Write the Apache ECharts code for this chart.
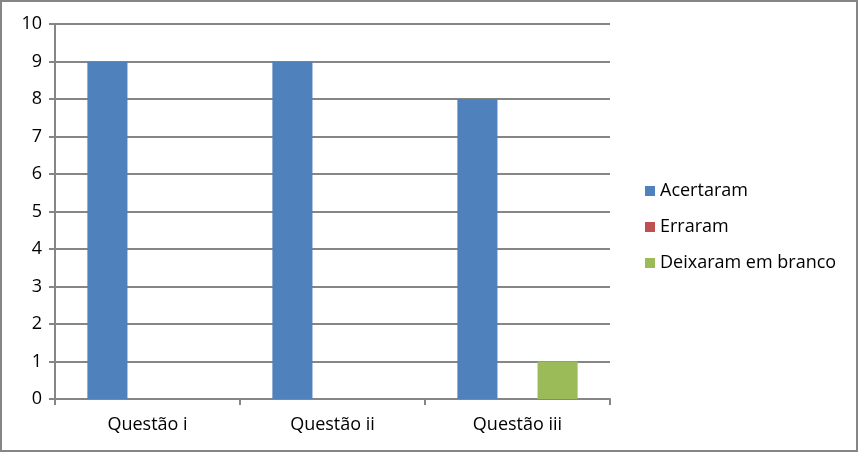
<!DOCTYPE html>
<html>
<head>
<meta charset="utf-8">
<script src="https://cdn.jsdelivr.net/npm/echarts@6/dist/echarts.min.js"></script>
<style>
  html, body { margin: 0; padding: 0; background: #fff; }
  #chart { width: 854px; height: 448px; border: 2px solid #868686; }
</style>
</head>
<body>
<div id="chart"></div>
<script>
// categorias e valores
const categories = ['Questão i', 'Questão ii', 'Questão iii'];
const acertaram = [9, 9, 8];
const erraram = [0, 0, 0];
const deixaram = [0, 0, 1];
const yTicks = [0, 10, 1]; // min, max, intervalo

const gridColor = '#868686';
const font = 'Open Sans, Noto Sans, sans-serif';

const chart = echarts.init(document.getElementById('chart'));
chart.setOption({
  animation: false,
  grid: { left: 53, top: 22, width: 555, height: 375 },
  legend: {
    orient: 'vertical',
    left: 638,
    top: 175,
    itemWidth: 10,
    itemHeight: 10,
    itemGap: 18,
    icon: 'rect',
    textStyle: { fontFamily: font, fontSize: 18, color: '#000', padding: [0, 0, 0, 0] },
    data: ['Acertaram', 'Erraram', 'Deixaram em branco']
  },
  xAxis: {
    type: 'category',
    data: categories,
    axisLine: { lineStyle: { color: gridColor, width: 2 } },
    axisTick: { show: true, length: 6, lineStyle: { color: gridColor, width: 2 } },
    axisLabel: { fontFamily: font, fontSize: 18, color: '#000', margin: 17 }
  },
  yAxis: {
    type: 'value',
    min: yTicks[0],
    max: yTicks[1],
    interval: yTicks[2],
    axisLine: { show: true, lineStyle: { color: gridColor, width: 2 } },
    axisTick: { show: true, length: 6, lineStyle: { color: gridColor, width: 2 } },
    axisLabel: { fontFamily: font, fontSize: 18, color: '#000', margin: 13 },
    splitLine: { show: true, lineStyle: { color: gridColor, width: 2 } }
  },
  series: [
    { name: 'Acertaram', type: 'bar', data: acertaram, barGap: '0%', barCategoryGap: '35%', itemStyle: { color: '#4f81bd' } },
    { name: 'Erraram', type: 'bar', data: erraram, itemStyle: { color: '#c0504d' } },
    { name: 'Deixaram em branco', type: 'bar', data: deixaram, itemStyle: { color: '#9bbb59' } }
  ]
});
</script>
</body>
</html>
